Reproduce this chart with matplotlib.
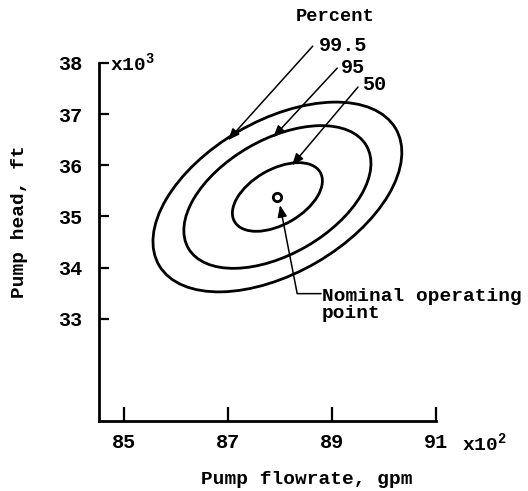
import numpy as np
import matplotlib.pyplot as plt
from matplotlib.patches import Ellipse

plt.rcParams['font.family'] = ['Liberation Mono', 'DejaVu Sans']
plt.rcParams['font.weight'] = 'bold'
plt.rcParams['mathtext.fontset'] = 'custom'
plt.rcParams['mathtext.rm'] = 'Liberation Mono'
plt.rcParams['mathtext.it'] = 'Liberation Mono'

# nominal operating point and spread (flow in 100 gpm, head in 1000 ft)
flow_nominal = 87.95
head_nominal = 35.38
flow_sigma = 0.735
head_sigma = 0.57
correlation = 0.47

percent_levels = [50, 95, 99.5]
percent_labels = ['50', '95', '99.5']

x_ticks = [85, 87, 89, 91]
y_ticks = [33, 34, 35, 36, 37, 38]

fig = plt.figure(figsize=(5.28, 4.91), dpi=100)
ax = fig.add_axes([0.1875, 0.1426, 0.6383, 0.7291])

cov = np.array([[flow_sigma**2, correlation*flow_sigma*head_sigma],
                [correlation*flow_sigma*head_sigma, head_sigma**2]])
vals, vecs = np.linalg.eigh(cov)
angle = np.degrees(np.arctan2(vecs[1, 1], vecs[0, 1]))

for p in percent_levels:
    # radius of the probability contour for a 2-d normal
    k = np.sqrt(-2.0*np.log(1.0 - p/100.0))
    e = Ellipse((flow_nominal, head_nominal), 2*k*np.sqrt(vals[1]), 2*k*np.sqrt(vals[0]),
                angle=angle, fill=False, edgecolor='k', linewidth=2.0)
    ax.add_patch(e)

ax.plot([flow_nominal], [head_nominal], 'o', mfc='white', mec='k', ms=6, mew=2)

ax.set_xlim(84.52, 91)
ax.set_ylim(31.0, 38)
ax.set_xticks(x_ticks)
ax.set_yticks(y_ticks)
ax.set_xticklabels([str(t) for t in x_ticks], fontsize=14.5)
ax.set_yticklabels([str(t) for t in y_ticks], fontsize=14.5)
ax.tick_params(axis='y', direction='in', length=7, width=1.6, pad=12)
ax.tick_params(axis='x', direction='in', length=10, width=1.6, pad=9)
for s in ['top', 'right']:
    ax.spines[s].set_visible(False)
for s in ['left', 'bottom']:
    ax.spines[s].set_linewidth(2)

ax.text(84.73, 38.0, r'x10$^3$', fontsize=14, ha='left', va='center')
ax.text(91.5, 30.57, r'x10$^2$', fontsize=14, ha='left', va='center', clip_on=False)

fig.text(307/528, 1-480/491, 'Pump flowrate, gpm', fontsize=14, ha='center', va='center')
fig.text(20/528, 1-222/491, 'Pump head, ft', fontsize=14, ha='center', va='center', rotation=90)

# legend of contour levels with leader arrows
arrow = dict(arrowstyle='-|>,head_length=0.5,head_width=0.2', color='k', lw=1.1,
             mutation_scale=14, shrinkA=0, shrinkB=0)
ax.text(89.06, 38.9, 'Percent', fontsize=13.5, ha='center', va='center', clip_on=False)
label_pos = [(89.58, 37.57), (89.17, 37.92), (88.75, 38.35)]
tails = [(89.5, 37.53), (89.1, 37.9), (88.63, 38.33)]
heads = [(88.23, 36.0), (87.87, 36.55), (87.0, 36.49)]
for lab, lp, t, h in zip(percent_labels, label_pos, tails, heads):
    ax.text(lp[0], lp[1], lab, fontsize=14.5, ha='left', va='center', clip_on=False)
    ax.annotate('', xy=h, xytext=t, arrowprops=arrow, annotation_clip=False)

ax.annotate('', xy=(88.0, 35.22), xytext=(88.79, 33.49),
            arrowprops=dict(arrow, connectionstyle='angle,angleA=0,angleB=-79,rad=0'),
            annotation_clip=False)
ax.text(88.81, 33.27, 'Nominal operating\npoint', fontsize=14, ha='left', va='center',
        linespacing=1.05, clip_on=False)

fig.savefig('out.png', dpi=100)
